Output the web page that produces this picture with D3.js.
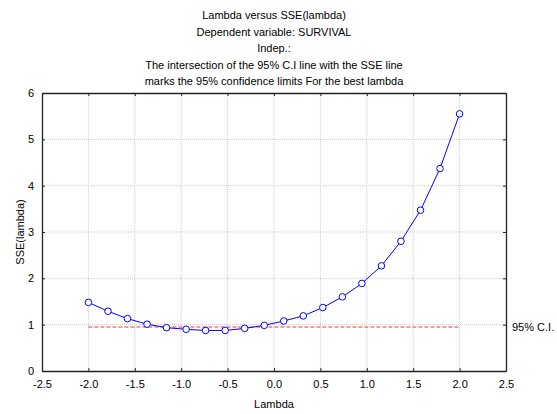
<!DOCTYPE html>
<html>
<head>
<meta charset="utf-8">
<script src="https://cdn.jsdelivr.net/npm/d3@7"></script>
<style>
  body { margin: 0; background: #fff; }
  text { font-family: "Liberation Sans", Arial, sans-serif; fill: #000; }
</style>
</head>
<body>
<div id="chart"></div>
<script>
// data
const lambdas = [-2.0, -1.789, -1.579, -1.368, -1.158, -0.947, -0.737, -0.526, -0.316, -0.105,
                 0.105, 0.316, 0.526, 0.737, 0.947, 1.158, 1.368, 1.579, 1.789, 2.0];
const sse = [1.48, 1.29, 1.13, 1.01, 0.935, 0.90, 0.875, 0.875, 0.92, 0.985,
             1.08, 1.19, 1.37, 1.60, 1.89, 2.27, 2.80, 3.47, 4.37, 5.55];
const ciLevel = 0.95;
const ciRange = [-2.0, 2.0];
const xTicks = [-2.5, -2.0, -1.5, -1.0, -0.5, 0.0, 0.5, 1.0, 1.5, 2.0, 2.5];
const yTicks = [0, 1, 2, 3, 4, 5, 6];
const titleLines = [
  "Lambda versus SSE(lambda)",
  "Dependent variable: SURVIVAL",
  "Indep.:",
  "The intersection of the 95% C.I line with the SSE line",
  "marks the 95% confidence limits For the best lambda"
];

const W = 557, H = 414;
const margin = { top: 93, right: 51, bottom: 43, left: 42 };
const width = W - margin.left - margin.right;
const height = H - margin.top - margin.bottom;

const svg = d3.select("#chart").append("svg")
  .attr("width", W).attr("height", H);

const g = svg.append("g")
  .attr("transform", `translate(${margin.left},${margin.top})`);

const x = d3.scaleLinear().domain([-2.5, 2.5]).range([0, width]);
const y = d3.scaleLinear().domain([0, 6]).range([height, 0]);

// grid
g.append("g").selectAll("line")
  .data(xTicks.slice(1, -1))
  .join("line")
  .attr("x1", d => x(d)).attr("x2", d => x(d))
  .attr("y1", 0).attr("y2", height)
  .attr("stroke", "#cccccc").attr("stroke-dasharray", "1,1");

g.append("g").selectAll("line")
  .data(yTicks.slice(1, -1))
  .join("line")
  .attr("x1", 0).attr("x2", width)
  .attr("y1", d => y(d)).attr("y2", d => y(d))
  .attr("stroke", "#cccccc").attr("stroke-dasharray", "1,1");

// plain hyphen minus like the original
const fmt1 = d => d3.format(".1f")(d).replace("\u2212", "-");

// axes with inner ticks
const xAxis = d3.axisBottom(x).tickValues(xTicks).tickFormat(fmt1).tickSizeInner(-3).tickSizeOuter(0).tickPadding(9);
const yAxis = d3.axisLeft(y).tickValues(yTicks).tickFormat(d3.format("d")).tickSizeInner(-3).tickSizeOuter(0).tickPadding(8);

const gx = g.append("g").attr("transform", `translate(0,${height})`).call(xAxis);
const gy = g.append("g").call(yAxis);
g.append("g").call(d3.axisTop(x).tickValues(xTicks).tickFormat("").tickSizeInner(-3).tickSizeOuter(0));
g.append("g").attr("transform", `translate(${width},0)`)
  .call(d3.axisRight(y).tickValues(yTicks).tickFormat("").tickSizeInner(-3).tickSizeOuter(0));

g.selectAll(".domain").attr("stroke", "#222").attr("stroke-width", 1.3);
g.selectAll(".tick line").attr("stroke", "#222");
[gx, gy].forEach(a => a.selectAll("text")
  .style("font-size", "11px").style("font-family", "Liberation Sans, Arial, sans-serif").attr("fill", "#000"));

// CI line
g.append("line")
  .attr("x1", x(ciRange[0])).attr("x2", x(ciRange[1]))
  .attr("y1", y(ciLevel)).attr("y2", y(ciLevel))
  .attr("stroke", "#ff3030").attr("stroke-width", 1.1)
  .attr("stroke-dasharray", "4,2");

g.append("text")
  .attr("x", width + 6).attr("y", y(ciLevel) + 4)
  .style("font-size", "11px")
  .text("95% C.I.");

// SSE line
const pts = lambdas.map((l, i) => ({ l, v: sse[i] }));
g.append("path")
  .datum(pts)
  .attr("d", d3.line().x(d => x(d.l)).y(d => y(d.v)))
  .attr("fill", "none").attr("stroke", "#0000ff").attr("stroke-width", 1);

g.selectAll(".dot")
  .data(pts)
  .join("circle")
  .attr("class", "dot")
  .attr("cx", d => x(d.l)).attr("cy", d => y(d.v))
  .attr("r", 3.3)
  .attr("fill", "#fff").attr("stroke", "#0000ff").attr("stroke-width", 1);

// titles
svg.append("g").selectAll("text")
  .data(titleLines)
  .join("text")
  .attr("x", margin.left + width / 2)
  .attr("y", (d, i) => 19 + i * 16.5)
  .attr("text-anchor", "middle")
  .style("font-size", "11px")
  .text(d => d);

// axis labels
svg.append("text")
  .attr("x", margin.left + width / 2).attr("y", 408)
  .attr("text-anchor", "middle")
  .style("font-size", "11px")
  .text("Lambda");

svg.append("text")
  .attr("transform", "rotate(-90)")
  .attr("x", -(margin.top + height / 2)).attr("y", 24)
  .attr("text-anchor", "middle")
  .style("font-size", "11px")
  .text("SSE(lambda)");
</script>
</body>
</html>
